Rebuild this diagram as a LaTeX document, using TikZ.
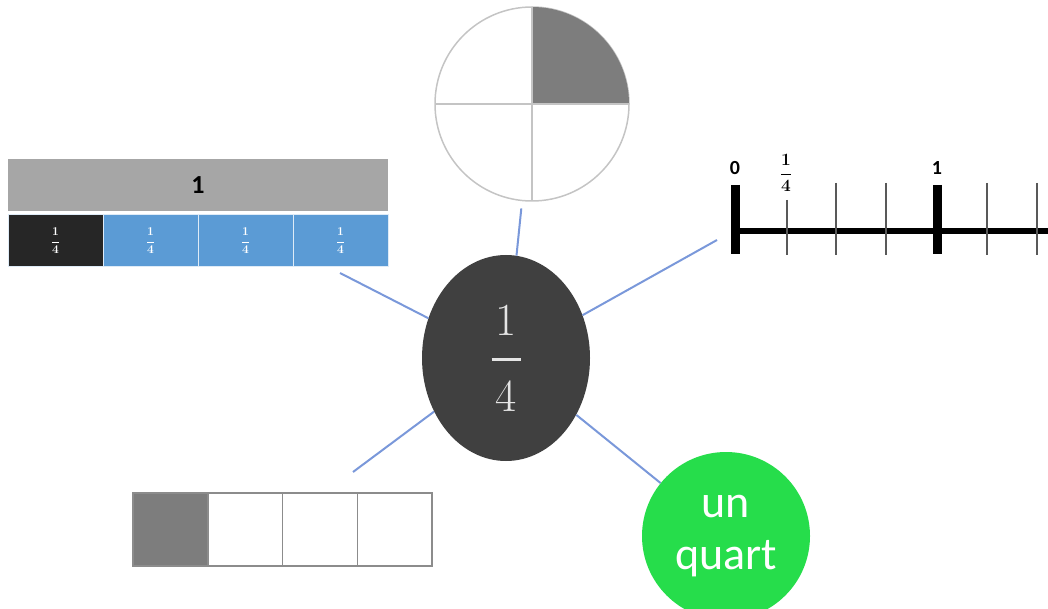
\documentclass[tikz,border=0pt]{standalone}
\usepackage{amsmath}
\usepackage{fontspec}
\newfontfamily\calfont{Carlito}
\usetikzlibrary{shapes,positioning,calc}
\definecolor{barblue}{RGB}{91,155,213}
\definecolor{bargray}{RGB}{166,166,166}
\definecolor{cellblack}{RGB}{38,38,38}
\definecolor{ovalgray}{RGB}{64,64,64}
\definecolor{quartgreen}{RGB}{38,221,75}
\definecolor{linkblue}{RGB}{122,152,218}
\definecolor{piegray}{RGB}{125,125,125}
\definecolor{rimgray}{RGB}{196,196,196}

\begin{document}
\begin{tikzpicture}[x=1pt,y=-1pt,
    link/.style={linkblue,line width=2pt},
    cell/.style={draw=white!80!barblue,line width=1pt,minimum width=95pt,minimum height=52pt,inner sep=0pt,text=white,font=\bfseries\boldmath\fontsize{12}{12}\selectfont},
    sq/.style={draw=black!45,line width=1.5pt,minimum width=74.75pt,minimum height=73pt,inner sep=0pt},
    tick/.style={line width=2pt,black!65},
    numlbl/.style={font=\calfont\bfseries\fontsize{20}{20}\selectfont}]
    \useasboundingbox (0,0) rectangle (1048,609);

    % bar model
    \node[fill=bargray,minimum width=380pt,minimum height=52pt,inner sep=0pt,font=\calfont\bfseries\fontsize{26}{26}\selectfont] (whole) at (198,185) {1};
    \foreach \i/\c in {0/cellblack,1/barblue,2/barblue,3/barblue}
        \node[cell,fill=\c] (part\i) at (55.5+95*\i,241) {$\dfrac{1}{4}$};

    % pie
    \node[circle,draw=rimgray,line width=1.5pt,outer sep=0pt,minimum size=194pt,inner sep=0pt] (pie) at (532,104) {};
    \fill[piegray] (pie.center) -- (pie.east) arc[start angle=0,end angle=90,radius=97pt] -- cycle;
    \draw[rimgray,line width=1.5pt] (pie.north) -- (pie.south) (pie.west) -- (pie.east);

    % number line
    \draw[line width=6pt] (735,231) -- (1048,231);
    \foreach \x/\t in {787/200,836/183,886/183,987/183,1037/183}
        \draw[tick] (\x,\t) -- (\x,255);
    \foreach \x in {735,937}
        \draw[line width=9pt] (\x,185) -- (\x,254);
    \node[numlbl] (zero) at (735,168) {0};
    \node[numlbl] (one) at (937,168) {1};
    \node[font=\bfseries\boldmath\fontsize{17}{17}\selectfont] (fourth) at (786,173) {$\dfrac{1}{4}$};
    \coordinate (nlink) at (717,240);

    % central fraction
    \node[ellipse,fill=ovalgray,minimum width=168pt,minimum height=206pt,inner sep=0pt,text=white!90!black,font=\fontsize{46}{46}\selectfont,align=center] (quarter) at (506,358) {1\\[-20pt]\rule{29pt}{2.8pt}\\[4pt]4};

    % strip of four
    \foreach \i/\c in {0/piegray,1/white,2/white,3/white}
        \node[sq,fill=\c] (sq\i) at (170.375+74.75*\i,529.5) {};

    % word form
    \node[circle,fill=quartgreen,minimum size=168pt,inner sep=0pt,text=white,align=center,font=\calfont\fontsize{46}{52}\selectfont] (unquart) at (726,536) {un\\quart};

    % links
    \coordinate (barlink) at (340,273);
    \coordinate (striplink) at (353,472);
    \draw[link] (quarter) -- (barlink);
    \draw[link,shorten >=8pt] (quarter) -- (pie);
    \draw[link] (quarter) -- (nlink);
    \draw[link] (quarter) -- (striplink);
    \draw[link] (quarter) -- (unquart);
\end{tikzpicture}
\end{document}
